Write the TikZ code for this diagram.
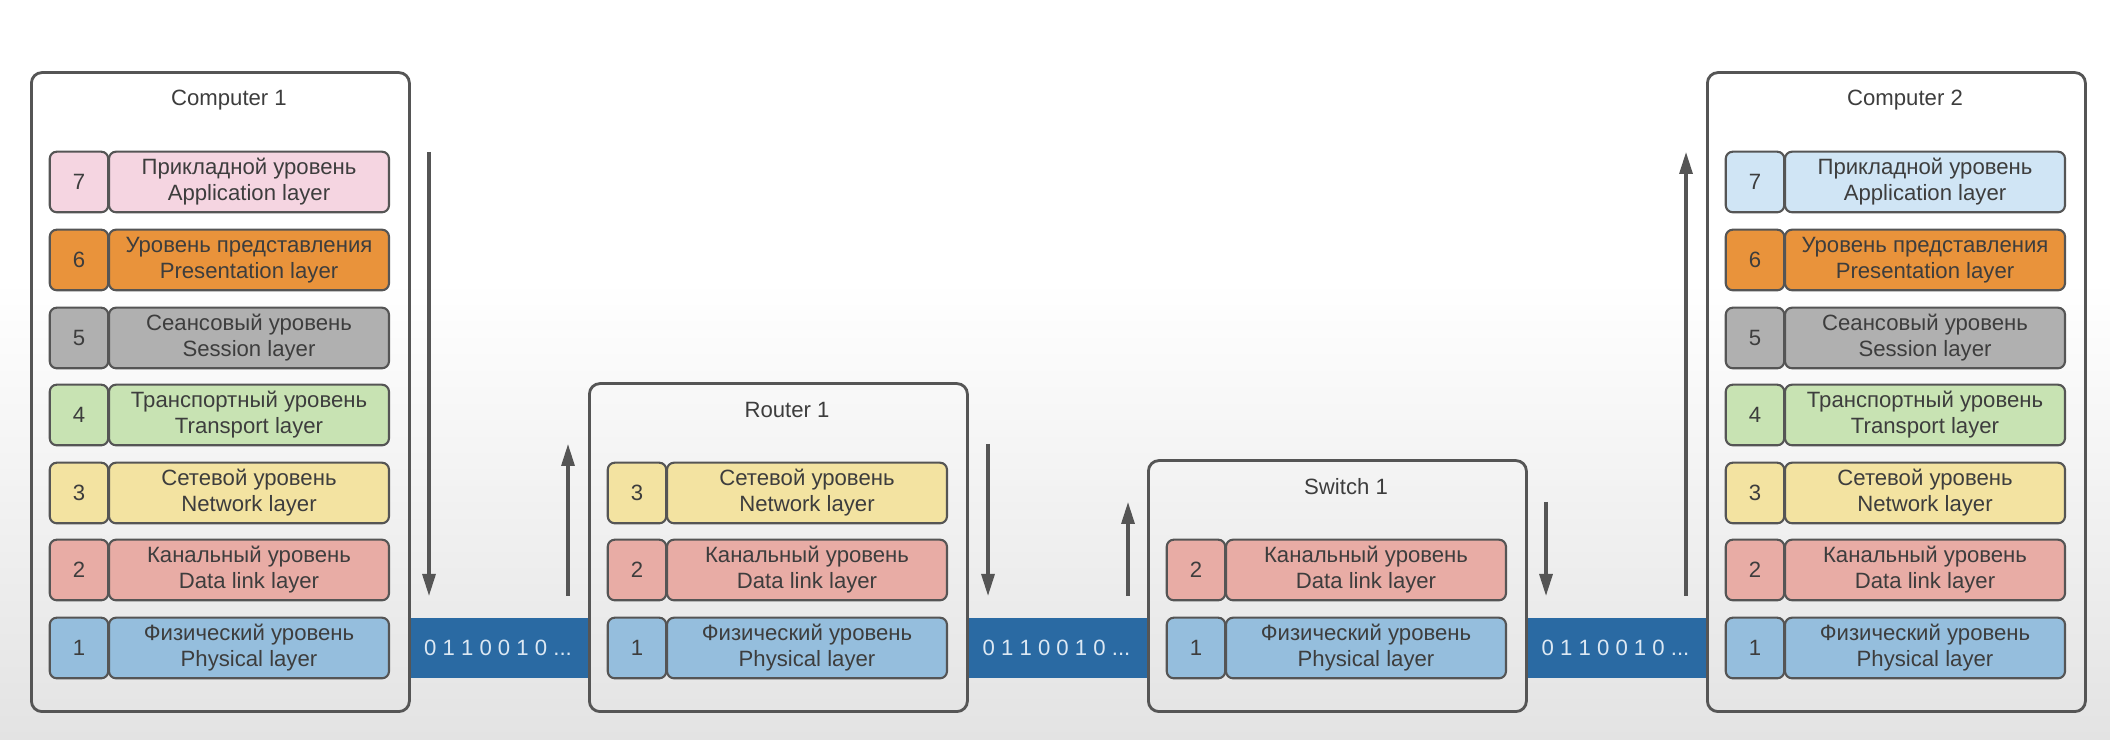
\documentclass[tikz,border=0pt]{standalone}
\usepackage{fontspec}
\setmainfont{Liberation Sans}
\usetikzlibrary{arrows.meta}

\definecolor{bgbot}{HTML}{E3E3E3}
\definecolor{edge}{HTML}{555555}
\definecolor{txt}{HTML}{3D3D3D}
\definecolor{appPink}{HTML}{F5D5E1}
\definecolor{appBlue}{HTML}{D0E5F5}
\definecolor{presOrange}{HTML}{E9933B}
\definecolor{sessGray}{HTML}{B0B0B0}
\definecolor{transGreen}{HTML}{C8E3B3}
\definecolor{netYellow}{HTML}{F3E3A1}
\definecolor{linkRed}{HTML}{E8ACA5}
\definecolor{physBlue}{HTML}{95BEDD}
\definecolor{wire}{HTML}{2A6AA3}
\definecolor{bitText}{HTML}{DCE8F3}

\tikzset{
  device/.style={draw=edge, line width=0.8pt, rounded corners=3pt, anchor=south west,
    minimum width=3.78cm, inner sep=0pt},
  devtitle/.style={text=txt, font=\fontsize{6.3}{7.4}\selectfont},
  numbox/.style={draw=edge, line width=0.6pt, rounded corners=2pt, minimum width=0.585cm,
    minimum height=0.606cm, inner sep=0pt, text=txt, font=\fontsize{6.3}{7.4}\selectfont},
  namebox/.style={numbox, minimum width=2.8cm, align=center},
  bits/.style={fill=wire, minimum width=1.81cm, minimum height=0.606cm, inner sep=0pt,
    text=bitText, font=\fontsize{6.3}{7.4}\selectfont},
  flow/.style={draw=edge, line width=0.9pt, -{Triangle[length=0.22cm,width=0.13cm]}}
}

\begin{document}
\begin{tikzpicture}
      \useasboundingbox (0,0) rectangle (21.1,7.4);

      % Background
      \fill[white] (0,0) rectangle (21.1,7.4);
      \shade[top color=white, bottom color=bgbot] (0,0) rectangle (21.1,4.6);

      % Wires between the devices
      \node[bits] (bits1) at (4.98, 0.92) {0 1 1 0 0 1 0 ...};
      \node[bits] (bits2) at (10.565, 0.92) {0 1 1 0 0 1 0 ...};
      \node[bits] (bits3) at (16.155, 0.92) {0 1 1 0 0 1 0 ...};

      % Devices
      \node[device, minimum height=6.39cm] (comp1) at (0.30, 0.27) {};
      \node[device, minimum height=3.28cm] (router1) at (5.88, 0.27) {};
      \node[device, minimum height=2.51cm] (switch1) at (11.47, 0.27) {};
      \node[device, minimum height=6.39cm] (comp2) at (17.06, 0.27) {};

      \node[devtitle] (comp1title) at (2.29, 6.40) {Computer 1};
      \node[devtitle] (router1title) at (7.87, 3.30) {Router 1};
      \node[devtitle] (switch1title) at (13.46, 2.53) {Switch 1};
      \node[devtitle] (comp2title) at (19.05, 6.40) {Computer 2};

      % Computer 1 layers
      \node[numbox, fill=appPink] (c1n7) at (0.79, 5.58) {7};
      \node[namebox, fill=appPink] (c1l7) at (2.49, 5.58) {Прикладной уровень\\Application layer};
      \node[numbox, fill=presOrange] (c1n6) at (0.79, 4.80) {6};
      \node[namebox, fill=presOrange] (c1l6) at (2.49, 4.80) {Уровень представления\\Presentation layer};
      \node[numbox, fill=sessGray] (c1n5) at (0.79, 4.02) {5};
      \node[namebox, fill=sessGray] (c1l5) at (2.49, 4.02) {Сеансовый уровень\\Session layer};
      \node[numbox, fill=transGreen] (c1n4) at (0.79, 3.25) {4};
      \node[namebox, fill=transGreen] (c1l4) at (2.49, 3.25) {Транспортный уровень\\Transport layer};
      \node[numbox, fill=netYellow] (c1n3) at (0.79, 2.47) {3};
      \node[namebox, fill=netYellow] (c1l3) at (2.49, 2.47) {Сетевой уровень\\Network layer};
      \node[numbox, fill=linkRed] (c1n2) at (0.79, 1.70) {2};
      \node[namebox, fill=linkRed] (c1l2) at (2.49, 1.70) {Канальный уровень\\Data link layer};
      \node[numbox, fill=physBlue] (c1n1) at (0.79, 0.92) {1};
      \node[namebox, fill=physBlue] (c1l1) at (2.49, 0.92) {Физический уровень\\Physical layer};

      % Router 1 layers
      \node[numbox, fill=netYellow] (r1n3) at (6.37, 2.47) {3};
      \node[namebox, fill=netYellow] (r1l3) at (8.07, 2.47) {Сетевой уровень\\Network layer};
      \node[numbox, fill=linkRed] (r1n2) at (6.37, 1.70) {2};
      \node[namebox, fill=linkRed] (r1l2) at (8.07, 1.70) {Канальный уровень\\Data link layer};
      \node[numbox, fill=physBlue] (r1n1) at (6.37, 0.92) {1};
      \node[namebox, fill=physBlue] (r1l1) at (8.07, 0.92) {Физический уровень\\Physical layer};

      % Switch 1 layers
      \node[numbox, fill=linkRed] (s1n2) at (11.96, 1.70) {2};
      \node[namebox, fill=linkRed] (s1l2) at (13.66, 1.70) {Канальный уровень\\Data link layer};
      \node[numbox, fill=physBlue] (s1n1) at (11.96, 0.92) {1};
      \node[namebox, fill=physBlue] (s1l1) at (13.66, 0.92) {Физический уровень\\Physical layer};

      % Computer 2 layers
      \node[numbox, fill=appBlue] (c2n7) at (17.55, 5.58) {7};
      \node[namebox, fill=appBlue] (c2l7) at (19.25, 5.58) {Прикладной уровень\\Application layer};
      \node[numbox, fill=presOrange] (c2n6) at (17.55, 4.80) {6};
      \node[namebox, fill=presOrange] (c2l6) at (19.25, 4.80) {Уровень представления\\Presentation layer};
      \node[numbox, fill=sessGray] (c2n5) at (17.55, 4.02) {5};
      \node[namebox, fill=sessGray] (c2l5) at (19.25, 4.02) {Сеансовый уровень\\Session layer};
      \node[numbox, fill=transGreen] (c2n4) at (17.55, 3.25) {4};
      \node[namebox, fill=transGreen] (c2l4) at (19.25, 3.25) {Транспортный уровень\\Transport layer};
      \node[numbox, fill=netYellow] (c2n3) at (17.55, 2.47) {3};
      \node[namebox, fill=netYellow] (c2l3) at (19.25, 2.47) {Сетевой уровень\\Network layer};
      \node[numbox, fill=linkRed] (c2n2) at (17.55, 1.70) {2};
      \node[namebox, fill=linkRed] (c2l2) at (19.25, 1.70) {Канальный уровень\\Data link layer};
      \node[numbox, fill=physBlue] (c2n1) at (17.55, 0.92) {1};
      \node[namebox, fill=physBlue] (c2l1) at (19.25, 0.92) {Физический уровень\\Physical layer};

      % Coordinates for the flow arrows
      \coordinate (down1a) at (4.29, 5.88);
      \coordinate (down1b) at (4.29, 1.44);
      \coordinate (up1a) at (5.68, 1.44);
      \coordinate (up1b) at (5.68, 2.96);
      \coordinate (down2a) at (9.88, 2.96);
      \coordinate (down2b) at (9.88, 1.44);
      \coordinate (up2a) at (11.28, 1.44);
      \coordinate (up2b) at (11.28, 2.38);
      \coordinate (down3a) at (15.46, 2.38);
      \coordinate (down3b) at (15.46, 1.44);
      \coordinate (up3a) at (16.86, 1.44);
      \coordinate (up3b) at (16.86, 5.88);

      % Draw the flow
      \draw[flow] (down1a) -- (down1b);
      \draw[flow] (up1a) -- (up1b);
      \draw[flow] (down2a) -- (down2b);
      \draw[flow] (up2a) -- (up2b);
      \draw[flow] (down3a) -- (down3b);
      \draw[flow] (up3a) -- (up3b);
  \end{tikzpicture}
\end{document}
